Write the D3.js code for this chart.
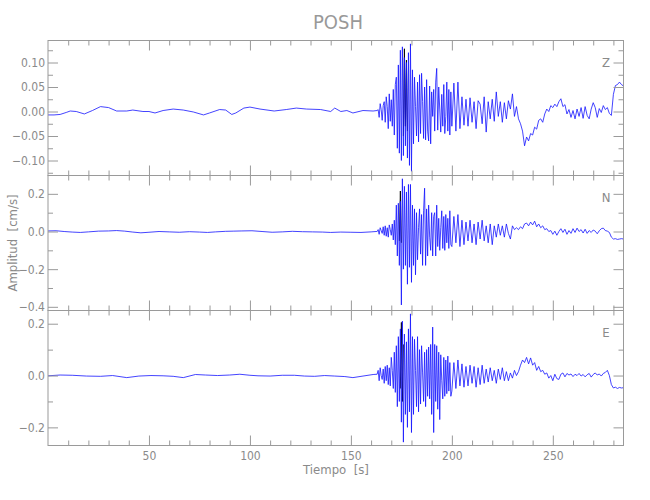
<!DOCTYPE html>
<html><head><meta charset="utf-8">
<script src="https://cdn.jsdelivr.net/npm/d3@7"></script>
<style>body{margin:0;background:#fff}svg{display:block}</style>
</head><body><svg id="c" width="650" height="500"></svg>
<script>
// ---------------- DATA ----------------
const components = ["Z", "N", "E"];
const timeDomain = [0, 285];
const xMajorTicks = [50, 100, 150, 200, 250];
const xMinorTicks = [10, 20, 30, 40, 60, 70, 80, 90, 110, 120, 130, 140, 160, 170, 180, 190, 210, 220, 230, 240, 260, 270, 280];

const zDomain = [-0.1306, 0.1449];
const nDomain = [-0.4195, 0.2974];
const eDomain = [-0.270, 0.251];
const zMajorTicks = [-0.10, -0.05, 0, 0.05, 0.10];
const zMinorTicks = [-0.125, -0.075, -0.025, 0.025, 0.075, 0.125];
const nMajorTicks = [-0.4, -0.2, 0, 0.2];
const nMinorTicks = [-0.3, -0.1, 0.1];
const eMajorTicks = [-0.2, 0, 0.2];
const eMinorTicks = [-0.1, 0.1];

// pre-event (quiet) part: explicit sample times [s] and amplitudes [cm/s]
const zQuietT = [0, 3, 6, 9, 11, 14, 18, 22, 26, 30, 34, 39, 42, 47, 50, 53, 57, 62, 67, 72, 77, 80, 85, 88, 91, 93, 97, 100, 105, 112, 118, 123, 128, 135, 140, 142, 145, 148, 151, 156, 161];
const zQuietV = [-0.007, -0.007, -0.006, -0.002, 0.001, 0.000, -0.005, 0.002, 0.010, 0.008, 0.001, 0.001, 0.003, 0.000, 0.000, -0.003, 0.002, 0.005, 0.003, -0.001, -0.007, -0.003, 0.004, 0.003, -0.006, -0.003, 0.007, 0.009, 0.005, 0.001, 0.004, 0.007, 0.005, 0.004, 0.000, 0.007, 0.000, 0.002, -0.003, 0.002, 0.001];
const nQuietT = [0, 4, 8, 12, 16, 20, 25, 30, 34, 38, 42, 46, 50, 55, 60, 65, 70, 75, 79, 83, 88, 92, 96, 101, 106, 111, 116, 121, 126, 131, 136, 140, 145, 150, 155, 160, 162.5];
const nQuietV = [0.003, 0.004, 0.000, -0.003, -0.005, -0.002, 0.002, 0.003, 0.005, 0.002, -0.003, -0.007, -0.004, 0.000, -0.002, -0.004, -0.001, -0.003, -0.005, -0.002, 0.001, 0.002, 0.003, 0.004, 0.000, -0.004, -0.002, 0.001, -0.001, -0.002, -0.003, -0.005, -0.003, -0.004, -0.005, -0.002, 0.000];
const eQuietT = [0, 6, 12, 19, 26, 32, 39, 45, 51, 57, 62, 67, 73, 78, 84, 90, 95, 100, 104, 110, 116, 122, 127, 132, 137, 142, 147, 151, 156, 161];
const eQuietV = [-0.001, 0.002, 0.001, -0.002, -0.003, 0.000, -0.008, -0.002, 0.000, -0.001, -0.003, -0.008, 0.004, 0.002, 0.000, 0.002, 0.005, 0.001, -0.001, -0.002, 0.001, 0.001, -0.002, -0.003, 0.000, -0.002, -0.004, -0.008, -0.002, 0.004];

// strong motion: samples every 0.5 s from 163.0 s to 199.5 s
const strongStart = 163, strongStep = 0.5;
const zStrong = [0.002, 0.004, -0.012, 0.016, 0.004, -0.018, 0.012, 0.020, -0.022, 0.030,
  0.010, -0.035, 0.036, -0.020, 0.024, -0.030, 0.045, -0.048, 0.055, 0.070,
  -0.075, 0.095, -0.085, 0.125, -0.100, 0.132, -0.090, 0.110, -0.070, 0.100,
  -0.095, 0.120, -0.110, 0.138, -0.122, 0.085, -0.066, 0.070, 0.010, -0.050,
  0.060, -0.062, 0.075, -0.045, 0.078, 0.020, -0.055, 0.050, -0.058, 0.065,
  -0.040, -0.060, 0.052, -0.066, 0.040, -0.010, 0.045, -0.040, 0.060, 0.088,
  -0.038, 0.050, 0.005, -0.042, 0.035, -0.030, 0.055, -0.045, -0.010, 0.060,
  -0.040, 0.045, -0.048, 0.040];
const nStrong = [0.000, 0.010, -0.015, 0.020, 0.005, -0.010, 0.025, -0.020, 0.030, -0.025,
  0.020, -0.030, 0.035, 0.010, -0.020, 0.040, -0.045, 0.060, -0.070, 0.140,
  -0.130, 0.150, -0.180, 0.160, -0.390, 0.280, -0.200, 0.240, -0.180, 0.210,
  -0.280, 0.250, -0.190, 0.250, -0.270, 0.140, -0.180, 0.120, -0.230, 0.100,
  -0.150, 0.020, 0.120, -0.120, 0.090, -0.180, 0.110, 0.230, -0.180, 0.120,
  -0.130, 0.140, -0.030, -0.100, 0.100, -0.130, 0.080, 0.100, -0.130, 0.140,
  -0.080, 0.070, -0.100, 0.020, 0.110, -0.090, 0.080, -0.100, 0.090, -0.060,
  0.070, -0.090, 0.110, -0.070];
const eStrong = [0.005, 0.020, -0.020, 0.030, 0.000, -0.015, 0.025, -0.030, 0.035, -0.020,
  0.040, -0.035, 0.030, -0.040, 0.070, 0.020, -0.050, 0.090, -0.065, 0.115,
  -0.120, 0.150, -0.100, 0.180, -0.180, 0.210, -0.257, 0.160, -0.150, 0.130,
  -0.200, 0.180, -0.140, 0.238, -0.220, 0.150, -0.150, 0.140, 0.020, -0.120,
  0.150, -0.140, 0.100, -0.110, 0.115, 0.010, -0.100, 0.090, -0.120, 0.100,
  -0.080, 0.110, -0.090, 0.120, -0.150, 0.187, -0.220, 0.120, -0.100, 0.115,
  -0.130, 0.090, -0.170, 0.080, -0.020, -0.090, 0.070, -0.080, 0.060, -0.070,
  0.075, -0.060, 0.050, -0.080];

// coda: samples every 1 s from 200 s to 285 s
const codaStart = 200, codaStep = 1;
const zCoda = [-0.030, 0.058, -0.040, 0.060, -0.035, 0.030, -0.028, 0.025, -0.030, 0.028,
  -0.022, 0.020, -0.035, 0.022, 0.015, -0.025, 0.030, -0.042, 0.020, -0.015,
  0.025, -0.020, 0.040, -0.010, 0.020, -0.022, 0.018, -0.015, 0.022, 0.005,
  0.036, -0.010, 0.010, -0.015, -0.025, -0.040, -0.070, -0.052, -0.060, -0.045,
  -0.048, -0.032, -0.036, -0.018, -0.015, -0.022, -0.005, 0.005, 0.000, 0.012,
  0.008, 0.015, 0.010, 0.020, 0.026, 0.010, 0.014, -0.005, 0.004, -0.012,
  0.002, -0.015, 0.005, -0.010, 0.008, -0.014, 0.010, -0.008, -0.015, 0.005,
  0.018, 0.008, -0.012, 0.006, -0.002, 0.012, 0.004, 0.008, -0.004, -0.008,
  0.035, 0.053, 0.055, 0.060, 0.055, 0.052];
const nCoda = [-0.080, 0.080, -0.060, 0.090, -0.080, 0.060, -0.070, 0.050, -0.050, 0.060,
  -0.060, 0.040, -0.070, 0.050, -0.040, 0.060, -0.050, 0.030, -0.060, 0.040,
  -0.070, 0.030, -0.030, 0.040, -0.020, 0.030, -0.030, 0.040, -0.010, -0.040,
  0.030, 0.010, 0.020, 0.010, 0.025, 0.015, 0.040, 0.045, 0.030, 0.050,
  0.035, 0.055, 0.025, 0.040, 0.020, 0.030, 0.010, 0.015, 0.000, 0.005,
  -0.015, 0.002, -0.020, 0.000, 0.015, -0.005, 0.012, -0.015, 0.005, -0.010,
  0.015, -0.005, 0.018, 0.000, 0.010, -0.008, 0.012, -0.010, 0.005, -0.005,
  0.008, 0.002, -0.012, 0.004, 0.015, 0.018, 0.005, 0.002, -0.005, -0.030,
  -0.040, -0.038, -0.042, -0.040, -0.038, -0.040];
const eCoda = [-0.060, 0.050, -0.050, 0.060, -0.040, 0.045, -0.045, 0.035, -0.040, 0.040,
  -0.030, 0.035, -0.045, 0.030, -0.035, 0.040, -0.030, 0.025, -0.025, 0.030,
  -0.020, 0.020, -0.030, 0.025, -0.015, 0.030, -0.020, 0.015, -0.020, 0.010,
  -0.010, 0.020, 0.000, 0.015, 0.040, 0.060, 0.050, 0.070, 0.045, 0.068,
  0.040, 0.050, 0.020, 0.035, 0.015, 0.020, 0.005, 0.010, -0.010, 0.000,
  -0.020, 0.005, -0.012, -0.015, 0.005, 0.010, -0.005, 0.008, 0.002, 0.006,
  -0.004, 0.005, 0.000, 0.008, -0.002, 0.004, -0.005, 0.003, 0.008, -0.006,
  0.004, 0.010, 0.002, 0.006, -0.002, 0.008, 0.012, 0.020, 0.000, -0.035,
  -0.048, -0.045, -0.050, -0.046, -0.048, -0.047];

// second (black) trace, visible only where it peeks out of the blue one
const zBlackT = [176.0, 176.5, 177.0, 177.5, 178.0];
const zBlackV = [-0.050, 0.128, -0.030, 0.105, -0.040];
const nBlackT = [174.0, 174.5, 175.0];
const nBlackV = [-0.05, 0.215, -0.06];
const eBlackT = [174.5, 175.0, 175.5, 176.0];
const eBlackV = [-0.050, 0.205, -0.100, 0.120];

// ---------------- BUILD ----------------
function buildSeries(qT, qV, strong, coda) {
  const pts = qT.map((t, i) => [t, qV[i]]);
  strong.forEach((v, i) => pts.push([strongStart + strongStep * i, v]));
  coda.forEach((v, i) => pts.push([codaStart + codaStep * i, v]));
  return pts;
}
const panels = [
  {name: "Z", domain: zDomain, major: zMajorTicks, minor: zMinorTicks, fmt: ".2f",
   data: buildSeries(zQuietT, zQuietV, zStrong, zCoda), black: zBlackT.map((t, i) => [t, zBlackV[i]])},
  {name: "N", domain: nDomain, major: nMajorTicks, minor: nMinorTicks, fmt: ".1f",
   data: buildSeries(nQuietT, nQuietV, nStrong, nCoda), black: nBlackT.map((t, i) => [t, nBlackV[i]])},
  {name: "E", domain: eDomain, major: eMajorTicks, minor: eMinorTicks, fmt: ".1f",
   data: buildSeries(eQuietT, eQuietV, eStrong, eCoda), black: eBlackT.map((t, i) => [t, eBlackV[i]])}
];

const left = 48, right = 623.5, top0 = 40.5, panelH = 135;
const axisColor = "#9a9a9a", textColor = "#8a8a8a";
const fontFam = "'Liberation Sans Narrow','DejaVu Sans Condensed','Liberation Sans',sans-serif";
const svg = d3.select("#c");
const x = d3.scaleLinear().domain(timeDomain).range([left, right]);

function styleAxis(g) {
  g.select(".domain").remove();
  g.selectAll(".tick line").attr("stroke", axisColor).attr("stroke-width", 1);
  g.selectAll(".tick text").attr("fill", textColor).attr("font-family", fontFam).attr("font-size", 12);
}

panels.forEach((p, k) => {
  const y0 = top0 + k * panelH, y1 = y0 + panelH;
  const y = d3.scaleLinear().domain(p.domain).range([y1, y0]);
  const g = svg.append("g");
  const clipId = "clip" + k;
  svg.append("clipPath").attr("id", clipId).append("rect")
    .attr("x", left).attr("y", y0).attr("width", right - left).attr("height", panelH);

  const line = d3.line().x(d => x(d[0])).y(d => y(d[1]));
  g.append("path").datum(p.black).attr("clip-path", `url(#${clipId})`)
    .attr("fill", "none").attr("stroke", "#000").attr("stroke-width", 0.9).attr("d", line);
  g.append("path").datum(p.data).attr("clip-path", `url(#${clipId})`)
    .attr("fill", "none").attr("stroke", "#1414ff").attr("stroke-width", 0.8)
    .attr("stroke-linejoin", "round").attr("d", line);

  // frame
  g.append("rect").attr("x", left).attr("y", y0).attr("width", right - left).attr("height", panelH)
    .attr("fill", "none").attr("stroke", axisColor).attr("stroke-width", 1);

  const f = d3.format(p.fmt);
  const fmt = v => Math.abs(v) < 1e-9 ? f(0) : f(v);
  // left axis
  g.append("g").attr("transform", `translate(${left},0)`)
    .call(d3.axisLeft(y).tickValues(p.major).tickSize(-10).tickPadding(3).tickFormat(fmt)).call(styleAxis);
  g.append("g").attr("transform", `translate(${left},0)`)
    .call(d3.axisLeft(y).tickValues(p.minor).tickSize(-5).tickFormat("")).call(styleAxis);
  // right axis (mirror)
  g.append("g").attr("transform", `translate(${right},0)`)
    .call(d3.axisRight(y).tickValues(p.major).tickSize(-10).tickFormat("")).call(styleAxis);
  g.append("g").attr("transform", `translate(${right},0)`)
    .call(d3.axisRight(y).tickValues(p.minor).tickSize(-5).tickFormat("")).call(styleAxis);
  // top ticks
  g.append("g").attr("transform", `translate(0,${y0})`)
    .call(d3.axisTop(x).tickValues(xMajorTicks).tickSize(-10).tickFormat("")).call(styleAxis);
  g.append("g").attr("transform", `translate(0,${y0})`)
    .call(d3.axisTop(x).tickValues(xMinorTicks).tickSize(-5).tickFormat("")).call(styleAxis);
  // bottom ticks
  g.append("g").attr("transform", `translate(0,${y1})`)
    .call(d3.axisBottom(x).tickValues(xMajorTicks).tickSize(-10).tickPadding(6)
      .tickFormat(k === 2 ? d3.format("d") : "")).call(styleAxis);
  g.append("g").attr("transform", `translate(0,${y1})`)
    .call(d3.axisBottom(x).tickValues(xMinorTicks).tickSize(-5).tickFormat("")).call(styleAxis);

  // component label
  g.append("text").attr("x", 606).attr("y", y0 + 26).attr("text-anchor", "middle")
    .attr("fill", textColor).attr("font-family", fontFam).attr("font-size", 13).text(p.name);
});

// title and axis titles
svg.append("text").attr("x", 338).attr("y", 29).attr("text-anchor", "middle")
  .attr("fill", "#999").attr("font-family", fontFam).attr("font-size", 20).text("POSH");
svg.append("text").attr("x", 336).attr("y", 474).attr("text-anchor", "middle")
  .attr("fill", textColor).attr("font-family", fontFam).attr("font-size", 13)
  .style("white-space", "pre").text("Tiempo  [s]");
svg.append("text").attr("transform", "translate(17,243) rotate(-90)").attr("text-anchor", "middle")
  .attr("fill", textColor).attr("font-family", fontFam).attr("font-size", 13)
  .style("white-space", "pre").text("Amplitud  [cm/s]");
</script>
</body></html>
